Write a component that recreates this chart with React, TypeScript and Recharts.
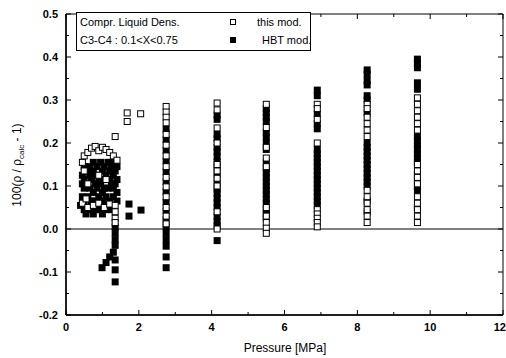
import { ScatterChart, Scatter, XAxis, YAxis, ReferenceLine, ReferenceArea } from "recharts";

// low-pressure cluster, [pressure MPa, deviation %]
const thisModLow: [number, number][] = [
  [0.45, 0.155], [0.5, 0.17], [0.6, 0.178], [0.7, 0.188], [0.8, 0.192], [0.9, 0.182],
  [1.0, 0.19], [1.1, 0.185], [1.2, 0.178], [1.3, 0.17], [1.4, 0.16],
  [0.5, 0.135], [0.9, 0.125], [0.6, 0.105], [1.1, 0.115],
  [0.45, 0.06], [0.6, 0.05], [0.75, 0.055], [0.9, 0.06], [1.05, 0.05], [1.2, 0.058], [0.55, 0.07],
  [1.35, 0.215], [1.35, 0.055], [1.35, 0.04], [1.35, 0.025], [1.35, 0.015],
  [1.68, 0.27], [1.68, 0.25], [2.05, 0.268],
];

const hbtModLow: [number, number][] = [
  [0.75, 0.155], [0.95, 0.155], [1.15, 0.155], [1.3, 0.155],
  [0.5, 0.145], [0.65, 0.145], [0.85, 0.145], [1.05, 0.145], [1.25, 0.145], [1.4, 0.145],
  [0.6, 0.135], [0.75, 0.135], [1.0, 0.135], [1.2, 0.135], [1.35, 0.135],
  [0.45, 0.125], [0.65, 0.125], [0.8, 0.125], [1.1, 0.125], [1.3, 0.125],
  [0.5, 0.115], [0.7, 0.115], [0.9, 0.115], [1.0, 0.115], [1.2, 0.115], [1.4, 0.115],
  [0.45, 0.105], [0.8, 0.105], [0.95, 0.105], [1.25, 0.105], [1.35, 0.105],
  [0.5, 0.095], [0.65, 0.095], [0.85, 0.095], [1.05, 0.095], [1.15, 0.095], [1.3, 0.095],
  [0.75, 0.085], [1.0, 0.085], [1.4, 0.085],
  [0.45, 0.075], [0.6, 0.075], [0.9, 0.075], [1.1, 0.075], [1.3, 0.075],
  [0.5, 0.065], [0.7, 0.065], [0.8, 0.065], [1.0, 0.065], [1.2, 0.065], [1.4, 0.065],
  [0.4, 0.055], [0.85, 0.055], [1.15, 0.055],
  [0.5, 0.045], [0.65, 0.045], [0.8, 0.045], [0.95, 0.045], [1.1, 0.045], [1.25, 0.045],
  [0.55, 0.035], [0.75, 0.035], [1.0, 0.035],
  [1.35, 0.005], [1.35, -0.01], [1.35, -0.025], [1.35, -0.038], [1.35, -0.072], [1.35, -0.095], [1.35, -0.123],
  [0.99, -0.09], [1.1, -0.078], [1.2, -0.065], [1.3, -0.054],
  [1.73, 0.058], [1.73, 0.03], [2.06, 0.044],
];

// isobar columns
const columnPressures = [2.75, 4.15, 5.5, 6.9, 8.27, 9.65];

const thisModColumns = [
  [0.285, 0.272, 0.26, 0.247, 0.22, 0.195, 0.17, 0.145, 0.12, 0.098, 0.075, 0.05, 0.03, 0.012],
  [0.293, 0.277, 0.235, 0.2, 0.15, 0.135, 0.118, 0.1, 0.04, 0.0],
  [0.29, 0.236, 0.19, 0.165, 0.145, 0.05, 0.03, 0.015, 0.002, -0.01],
  [0.29, 0.28, 0.255, 0.2, 0.045, 0.035, 0.025, 0.015, 0.005],
  [0.29, 0.28, 0.26, 0.245, 0.23, 0.215, 0.09, 0.075, 0.06, 0.045, 0.03, 0.015],
  [0.305, 0.29, 0.275, 0.26, 0.245, 0.23, 0.15, 0.135, 0.12, 0.105, 0.075, 0.06, 0.045, 0.03, 0.015],
];

const hbtModColumns = [
  [0.232, 0.208, 0.183, 0.158, 0.133, 0.11, 0.087, 0.062, 0.042, 0.022, 0.005, -0.01, -0.025, -0.04, -0.065, -0.09],
  [0.265, 0.255, 0.22, 0.21, 0.19, 0.18, 0.168, 0.156, 0.143, 0.126, 0.108, 0.093, 0.083, 0.072, 0.061, 0.05, 0.03, 0.018, 0.008, -0.027],
  [0.28, 0.27, 0.26, 0.25, 0.225, 0.213, 0.2, 0.185, 0.155, 0.14, 0.13, 0.12, 0.11, 0.1, 0.09, 0.08, 0.07, 0.06, 0.045, 0.035, 0.025],
  [0.323, 0.31, 0.268, 0.245, 0.233, 0.185, 0.175, 0.165, 0.155, 0.145, 0.135, 0.125, 0.115, 0.105, 0.095, 0.085, 0.075, 0.065, 0.055],
  [0.37, 0.36, 0.345, 0.335, 0.31, 0.3, 0.27, 0.2, 0.19, 0.18, 0.17, 0.16, 0.15, 0.14, 0.13, 0.12, 0.11, 0.1, 0.065, 0.04],
  [0.395, 0.385, 0.375, 0.34, 0.325, 0.215, 0.205, 0.195, 0.185, 0.175, 0.165, 0.155, 0.128, 0.113, 0.098, 0.09, 0.05],
];

const xTicks = [0, 1, 2, 3, 4, 5, 6, 7, 8, 9, 10, 11, 12];
const yTicks = [-0.2, -0.15, -0.1, -0.05, 0, 0.05, 0.1, 0.15, 0.2, 0.25, 0.3, 0.35, 0.4, 0.45, 0.5];

const toRows = (low: [number, number][], cols: number[][]) => [
  ...low.map(([p, d]) => ({ p, d })),
  ...cols.flatMap((vals, i) => vals.map((d) => ({ p: columnPressures[i], d }))),
];

const thisModData = toRows(thisModLow, thisModColumns);
const hbtModData = toRows(hbtModLow, hbtModColumns);

const W = 506;
const H = 358;
const TOP = 14;
const BOTTOM = 315;
const LEFT = 66;
const RIGHT = 503;
const FONT = "'Liberation Sans', Arial, sans-serif";

function OpenSquare({ cx, cy }: any) {
  return <rect x={cx - 3} y={cy - 3} width={6} height={6} fill="#fff" stroke="#000" strokeWidth={1} />;
}

function FilledSquare({ cx, cy }: any) {
  return <rect x={cx - 3.5} y={cy - 3.5} width={7} height={7} fill="#000" />;
}

function XTick({ x, payload }: any) {
  const major = payload.value % 2 === 0;
  const len = major ? 5 : 3;
  const last = payload.value === 12;
  return (
    <g>
      <line x1={x} x2={x} y1={BOTTOM} y2={BOTTOM - len} stroke="#000" />
      <line x1={x} x2={x} y1={TOP} y2={TOP + len} stroke="#000" />
      {major && (
        <text
          x={last ? W : x}
          y={331}
          textAnchor={last ? "end" : "middle"}
          fontFamily={FONT}
          fontSize={11}
          fontWeight="bold"
          fill="#000"
        >
          {payload.value}
        </text>
      )}
    </g>
  );
}

function YTick({ y, payload }: any) {
  const v = payload.value;
  const major = Math.abs(v * 10 - Math.round(v * 10)) < 1e-6;
  const len = major ? 5 : 3;
  return (
    <g>
      <line x1={LEFT} x2={LEFT + len} y1={y} y2={y} stroke="#000" />
      <line x1={RIGHT} x2={RIGHT - len} y1={y} y2={y} stroke="#000" />
      {major && (
        <text x={58} y={y + 4} textAnchor="end" fontFamily={FONT} fontSize={11} fontWeight="bold" fill="#000">
          {v.toFixed(1)}
        </text>
      )}
    </g>
  );
}

function YTitle() {
  return (
    <text
      transform="translate(21,165) rotate(-90)"
      textAnchor="middle"
      fontFamily={FONT}
      fontSize={12}
      fill="#000"
    >
      100(ρ / ρ
      <tspan fontSize={8} dy={3}>calc</tspan>
      <tspan dy={-3}> - 1)</tspan>
    </text>
  );
}

function XTitle() {
  return (
    <text x={285} y={352} textAnchor="middle" fontFamily={FONT} fontSize={12} fill="#000">
      Pressure [MPa]
    </text>
  );
}

function LegendBox() {
  const txt = { position: "absolute" as const, fontFamily: FONT, fontSize: 11, lineHeight: "12px", whiteSpace: "nowrap" as const };
  return (
    <div
      style={{
        position: "absolute",
        left: 76,
        top: 12,
        width: 233,
        height: 37,
        border: "1px solid #000",
        background: "#fff",
      }}
    >
      <span style={{ ...txt, left: 3, top: 3 }}>Compr. Liquid Dens.</span>
      <span style={{ ...txt, left: 3, top: 21 }}>C3-C4 : 0.1&lt;X&lt;0.75</span>
      <div style={{ position: "absolute", left: 153, top: 6, width: 4, height: 4, border: "1px solid #000" }} />
      <div style={{ position: "absolute", left: 153, top: 24, width: 6, height: 6, background: "#000" }} />
      <span style={{ ...txt, left: 180, top: 3 }}>this mod.</span>
      <span style={{ ...txt, left: 185, top: 21 }}>HBT mod.</span>
    </div>
  );
}

export default function App() {
  return (
    <div style={{ position: "absolute", left: 0, top: 0, width: W, height: H, background: "#fff" }}>
      <ScatterChart width={W} height={H} margin={{ top: TOP, right: W - RIGHT, bottom: 0, left: 0 }}>
        <ReferenceArea x1={0} x2={12} y1={-0.2} y2={0.5} fill="none" stroke="#000" strokeWidth={1} ifOverflow="visible" />
        <XAxis
          type="number"
          dataKey="p"
          domain={[0, 12]}
          ticks={xTicks}
          interval={0}
          height={H - BOTTOM}
          tickLine={false}
          axisLine={{ stroke: "#000", strokeWidth: 1.5 }}
          tick={<XTick />}
          label={<XTitle />}
        />
        <YAxis
          type="number"
          dataKey="d"
          domain={[-0.2, 0.5]}
          ticks={yTicks}
          interval={0}
          width={LEFT}
          tickLine={false}
          axisLine={{ stroke: "#000", strokeWidth: 1.5 }}
          tick={<YTick />}
          label={<YTitle />}
        />
        <ReferenceLine y={0} stroke="#000" strokeWidth={1} />
        <Scatter data={hbtModData} shape={<FilledSquare />} isAnimationActive={false} />
        <Scatter data={thisModData} shape={<OpenSquare />} isAnimationActive={false} />
      </ScatterChart>
      <LegendBox />
    </div>
  );
}
